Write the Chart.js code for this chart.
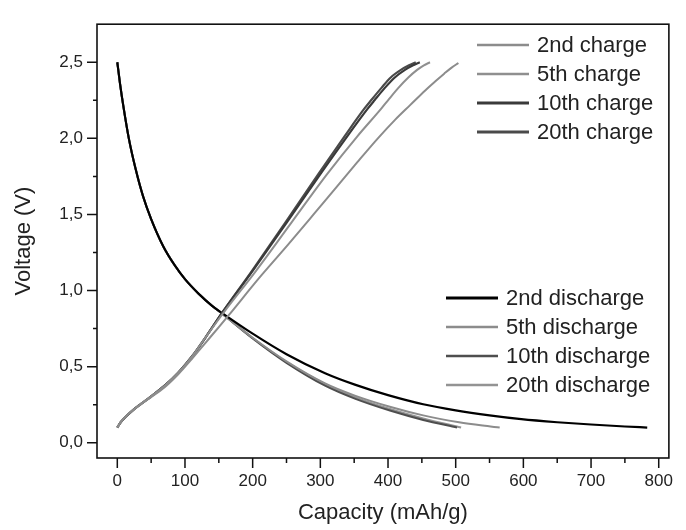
<!DOCTYPE html>
<html>
<head>
<meta charset="utf-8">
<script src="https://cdn.jsdelivr.net/npm/chart.js@4.4.0/dist/chart.umd.min.js"></script>
<style>
  html, body { margin: 0; padding: 0; background: #fff; }
</style>
</head>
<body>
<canvas id="cv" width="686" height="530"></canvas>
<script>
// ---------------- Charge curves (capacity mAh/g, voltage V) ----------------
const ch2Cap  = [0, 5, 12, 22, 35, 50, 70, 90, 110, 130, 150, 165, 210, 252, 290, 322, 355, 385, 410, 433, 455, 470, 483, 494, 504];
const ch2Volt = [0.1, 0.135, 0.17, 0.21, 0.255, 0.3, 0.365, 0.45, 0.55, 0.655, 0.76, 0.84, 1.085, 1.3, 1.5, 1.67, 1.845, 2.0, 2.12, 2.22, 2.315, 2.375, 2.425, 2.465, 2.495];
const ch5Cap  = [0, 5, 12, 22, 35, 50, 70, 90, 110, 130, 157, 205, 257, 310, 355, 390, 400, 415, 430, 443, 453, 462];
const ch5Volt = [0.1, 0.135, 0.17, 0.21, 0.255, 0.305, 0.375, 0.46, 0.565, 0.69, 0.855, 1.13, 1.445, 1.765, 2.015, 2.195, 2.25, 2.33, 2.4, 2.45, 2.48, 2.5];
const ch10Cap  = [0, 5, 12, 22, 35, 50, 70, 90, 110, 130, 155, 200, 250, 300, 340, 370, 380, 395, 410, 425, 437, 447];
const ch10Volt = [0.1, 0.135, 0.17, 0.21, 0.255, 0.305, 0.375, 0.46, 0.565, 0.69, 0.855, 1.13, 1.445, 1.765, 2.015, 2.195, 2.25, 2.33, 2.4, 2.45, 2.48, 2.5];
const ch20Cap  = [0, 5, 12, 22, 35, 50, 70, 90, 110, 130, 155, 199, 248, 297, 336, 365, 375, 390, 404, 419, 431, 441];
const ch20Volt = [0.1, 0.135, 0.17, 0.21, 0.255, 0.305, 0.375, 0.46, 0.565, 0.69, 0.855, 1.13, 1.445, 1.765, 2.015, 2.195, 2.25, 2.33, 2.4, 2.45, 2.48, 2.5];

// ---------------- Discharge curves ----------------
const dis2Cap  = [0, 4, 9, 17, 27, 38, 50, 68, 85, 100, 120, 140, 155, 200, 250, 307, 351, 400, 452, 500, 550, 597, 650, 700, 750, 783];
const dis2Volt = [2.5, 2.36, 2.21, 2.0, 1.8, 1.62, 1.47, 1.29, 1.165, 1.075, 0.98, 0.9, 0.852, 0.717, 0.582, 0.457, 0.382, 0.313, 0.253, 0.213, 0.18, 0.155, 0.135, 0.12, 0.107, 0.1];
const dis5Cap  = [0, 4, 9, 17, 27, 38, 50, 68, 85, 100, 120, 140, 155, 200, 250, 307, 351, 404, 452, 505, 540, 565];
const dis5Volt = [2.5, 2.36, 2.21, 2.0, 1.8, 1.62, 1.47, 1.29, 1.165, 1.075, 0.98, 0.9, 0.848, 0.69, 0.535, 0.39, 0.31, 0.235, 0.18, 0.135, 0.113, 0.1];
const dis10Cap  = [0, 4, 9, 17, 27, 38, 50, 68, 85, 100, 120, 140, 155, 200, 250, 307, 351, 404, 452, 502];
const dis10Volt = [2.5, 2.36, 2.21, 2.0, 1.8, 1.62, 1.47, 1.29, 1.165, 1.075, 0.98, 0.9, 0.848, 0.685, 0.525, 0.375, 0.29, 0.21, 0.15, 0.1];
const dis20Cap  = [0, 4, 9, 17, 27, 38, 50, 68, 85, 100, 120, 140, 155, 200, 250, 307, 351, 404, 452, 508];
const dis20Volt = [2.5, 2.36, 2.21, 2.0, 1.8, 1.62, 1.47, 1.29, 1.165, 1.075, 0.98, 0.9, 0.848, 0.688, 0.53, 0.385, 0.3, 0.22, 0.16, 0.1];

// ---------------- Axis ticks ----------------
const xMajor = [0, 100, 200, 300, 400, 500, 600, 700, 800];
const xMinor = [50, 150, 250, 350, 450, 550, 650, 750];
const yMajor = [0, 0.5, 1.0, 1.5, 2.0, 2.5];
const yMinor = [0.25, 0.75, 1.25, 1.75, 2.25];

function pts(xs, ys) {
  return xs.map((v, i) => ({ x: v, y: ys[i] }));
}

function series(label, xs, ys, color, width, group) {
  return {
    label: label,
    data: pts(xs, ys),
    borderColor: color,
    borderWidth: width,
    showLine: true,
    pointRadius: 0,
    cubicInterpolationMode: "monotone",
    fill: false,
    group: group
  };
}

const datasets = [
  series("2nd charge", ch2Cap, ch2Volt, "#8c8c8c", 2, "charge"),
  series("5th charge", ch5Cap, ch5Volt, "#8f8f8f", 2, "charge"),
  series("10th charge", ch10Cap, ch10Volt, "#3a3a3a", 2.2, "charge"),
  series("20th charge", ch20Cap, ch20Volt, "#4a4a4a", 2.2, "charge"),
  series("2nd discharge", dis2Cap, dis2Volt, "#000000", 2.2, "discharge"),
  series("5th discharge", dis5Cap, dis5Volt, "#8c8c8c", 2, "discharge"),
  series("10th discharge", dis10Cap, dis10Volt, "#4e4e4e", 2, "discharge"),
  series("20th discharge", dis20Cap, dis20Volt, "#939393", 2, "discharge")
];

// ---------------- Frame + tick marks ----------------
const framePlugin = {
  id: "frame",
  afterDraw(chart) {
    const { ctx, chartArea: a } = chart;
    const x = chart.scales.x, y = chart.scales.y;
    ctx.save();
    ctx.strokeStyle = "#111";
    ctx.lineWidth = 1.6;
    ctx.strokeRect(a.left, a.top, a.right - a.left, a.bottom - a.top);
    ctx.lineWidth = 1.5;
    ctx.beginPath();
    xMajor.forEach(v => { const p = x.getPixelForValue(v); ctx.moveTo(p, a.bottom); ctx.lineTo(p, a.bottom + 10); });
    xMinor.forEach(v => { const p = x.getPixelForValue(v); ctx.moveTo(p, a.bottom); ctx.lineTo(p, a.bottom + 5); });
    yMajor.forEach(v => { const p = y.getPixelForValue(v); ctx.moveTo(a.left, p); ctx.lineTo(a.left - 10, p); });
    yMinor.forEach(v => { const p = y.getPixelForValue(v); ctx.moveTo(a.left, p); ctx.lineTo(a.left - 4, p); });
    ctx.stroke();
    ctx.restore();
  }
};

// ---------------- Two legend blocks ----------------
const legendPlugin = {
  id: "twoLegends",
  afterDatasetsDraw(chart, args, opts) {
    const ctx = chart.ctx;
    ctx.save();
    ctx.font = "22px 'Liberation Sans', Arial, sans-serif";
    ctx.textBaseline = "middle";
    ctx.fillStyle = "#222";
    opts.blocks.forEach(b => {
      let row = 0;
      chart.data.datasets.forEach(ds => {
        if (ds.group !== b.group) return;
        const yy = b.y + row * b.gap;
        ctx.strokeStyle = ds.borderColor;
        ctx.lineWidth = ds.borderWidth + 0.6;
        ctx.beginPath();
        ctx.moveTo(b.x, yy);
        ctx.lineTo(b.x + 52, yy);
        ctx.stroke();
        ctx.fillText(ds.label, b.x + 60, yy + 1);
        row++;
      });
    });
    ctx.restore();
  }
};

const tickFont = { family: "'Liberation Sans', Arial, sans-serif", size: 17 };
const titleFont = { family: "'Liberation Sans', Arial, sans-serif", size: 22 };

new Chart(document.getElementById("cv"), {
  type: "scatter",
  data: { datasets: datasets },
  options: {
    responsive: false,
    animation: false,
    layout: { padding: { top: 11, right: 5, left: 0, bottom: 0 } },
    plugins: {
      legend: { display: false },
      tooltip: { enabled: false },
      twoLegends: {
        blocks: [
          { group: "charge", x: 477, y: 45, gap: 29 },
          { group: "discharge", x: 446, y: 298, gap: 29 }
        ]
      }
    },
    scales: {
      x: {
        type: "linear",
        min: -30,
        max: 815,
        grid: { display: false, drawTicks: false },
        border: { display: false },
        ticks: {
          stepSize: 100,
          includeBounds: false,
          padding: 13,
          color: "#222",
          font: tickFont,
          maxRotation: 0
        },
        title: { display: true, text: "Capacity (mAh/g)", color: "#222", font: titleFont, padding: { top: 0, bottom: 4 } },
        afterFit(scale) { scale.height = 72; }
      },
      y: {
        type: "linear",
        min: -0.1,
        max: 2.75,
        grid: { display: false, drawTicks: false },
        border: { display: false },
        ticks: {
          stepSize: 0.5,
          includeBounds: false,
          padding: 14,
          color: "#222",
          font: tickFont,
          callback: v => v.toFixed(1).replace(".", ",")
        },
        title: { display: true, text: "Voltage (V)", color: "#222", font: titleFont, padding: { top: 11, bottom: 0 } },
        afterFit(scale) { scale.width = 97; }
      }
    }
  },
  plugins: [framePlugin, legendPlugin]
});
</script>
</body>
</html>
